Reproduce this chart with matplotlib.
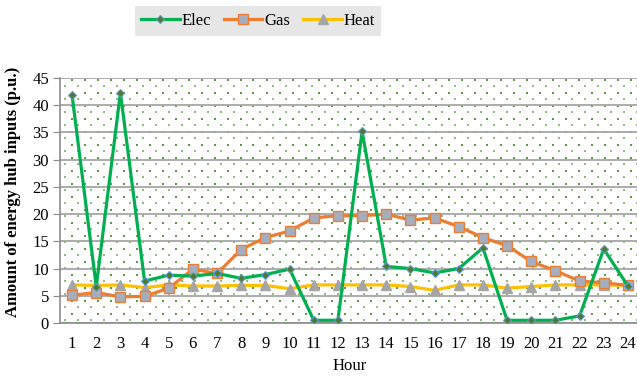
import numpy as np
import matplotlib.pyplot as plt

hours = list(range(1, 25))
elec = [41.8, 6.7, 42.3, 7.7, 8.8, 8.6, 9.1, 8.2, 8.9, 9.9, 0.5, 0.5,
        35.2, 10.4, 10.0, 9.2, 10.0, 13.8, 0.5, 0.5, 0.5, 1.3, 13.6, 6.8]
gas = [5.1, 5.6, 4.8, 4.9, 6.4, 9.9, 9.1, 13.5, 15.7, 16.9, 19.3, 19.7,
       19.7, 20.0, 18.9, 19.3, 17.7, 15.7, 14.2, 11.3, 9.6, 7.7, 7.4, 6.9]
heat = [7.0, 6.9, 7.0, 6.5, 7.0, 6.8, 6.8, 6.9, 6.9, 6.3, 7.0, 7.0,
        7.0, 7.0, 6.7, 6.0, 7.0, 7.0, 6.4, 6.7, 7.0, 7.0, 7.0, 6.9]
yticks = list(range(0, 50, 5))

plt.rcParams['font.family'] = ['Liberation Serif', 'DejaVu Serif']

fig = plt.figure(figsize=(6.37, 3.77), dpi=100)
ax = fig.add_axes([60 / 637, 1 - 323 / 377, 580 / 637, 245 / 377])

# dotted plot-area texture: staggered rows of tiny green dots (pixel spacing)
w_px, h_px = 580, 245
light_x, light_y, dark_x, dark_y = [], [], [], []
for r, yy in enumerate(np.arange(3, h_px, 6.5)):
    if r % 2 == 0:
        for xx in np.arange(5, w_px, 13):
            light_x.append(xx / w_px)
            light_y.append(yy / h_px)
    else:
        for xx in np.arange(11.5, w_px, 13):
            dark_x.append(xx / w_px)
            dark_y.append(yy / h_px)
ax.scatter(light_x, light_y, s=0.9, marker='s', color='#95b982',
           linewidths=0, transform=ax.transAxes, zorder=0)
ax.scatter(dark_x, dark_y, s=1.5, marker='s', color='#62984a',
           linewidths=0, transform=ax.transAxes, zorder=0)

ax.set_xlim(0.5, 24.5)
ax.set_ylim(0, 45)
ax.set_yticks(yticks)
ax.set_xticks(hours)
ax.yaxis.grid(True, color='#a6a6a6', linewidth=1.3)
ax.set_axisbelow(True)

ax.plot(hours, heat, color='#ffc000', linewidth=2.3, marker='^',
        markersize=7, markerfacecolor='#a5a5a5', markeredgecolor='#a5a5a5',
        label='Heat', zorder=3)
ax.plot(hours, gas, color='#ed7d31', linewidth=2.3, marker='s',
        markersize=6.5, markerfacecolor='#a5aebf', markeredgecolor='#ed7d31',
        markeredgewidth=1, label='Gas', zorder=4)
ax.plot(hours, elec, color='#00b050', linewidth=2.3, marker='D',
        markersize=4.5, markerfacecolor='#4f7a28', markeredgecolor='#5b9bd5',
        markeredgewidth=0.8, label='Elec', zorder=5)

for side in ['top', 'right']:
    ax.spines[side].set_visible(False)
for side in ['left', 'bottom']:
    ax.spines[side].set_color('#8c8c8c')
    ax.spines[side].set_linewidth(1.2)
ax.tick_params(axis='y', length=5, color='#8c8c8c', labelsize=12, pad=3)
ax.tick_params(axis='x', length=0, labelsize=12, pad=9)

ax.set_xlabel('Hour', fontsize=12, labelpad=5)
ax.set_ylabel('Amount of energy hub inputs (p.u.)', fontsize=12,
              fontweight='bold')
ax.yaxis.set_label_coords(-39 / 580, 0.535)

handles, labels = ax.get_legend_handles_labels()
leg = fig.legend(handles[::-1], labels[::-1], loc='center', ncol=3,
                 bbox_to_anchor=(258 / 637, 1 - 21 / 377), fontsize=12,
                 frameon=True, fancybox=False, handlelength=2.3,
                 columnspacing=0.8, handletextpad=0.1, borderpad=0.4)
leg.get_frame().set_facecolor('#e6e6e6')
leg.get_frame().set_edgecolor('none')
leg.get_frame().set_alpha(1)

fig.savefig('out.png', dpi=100)
